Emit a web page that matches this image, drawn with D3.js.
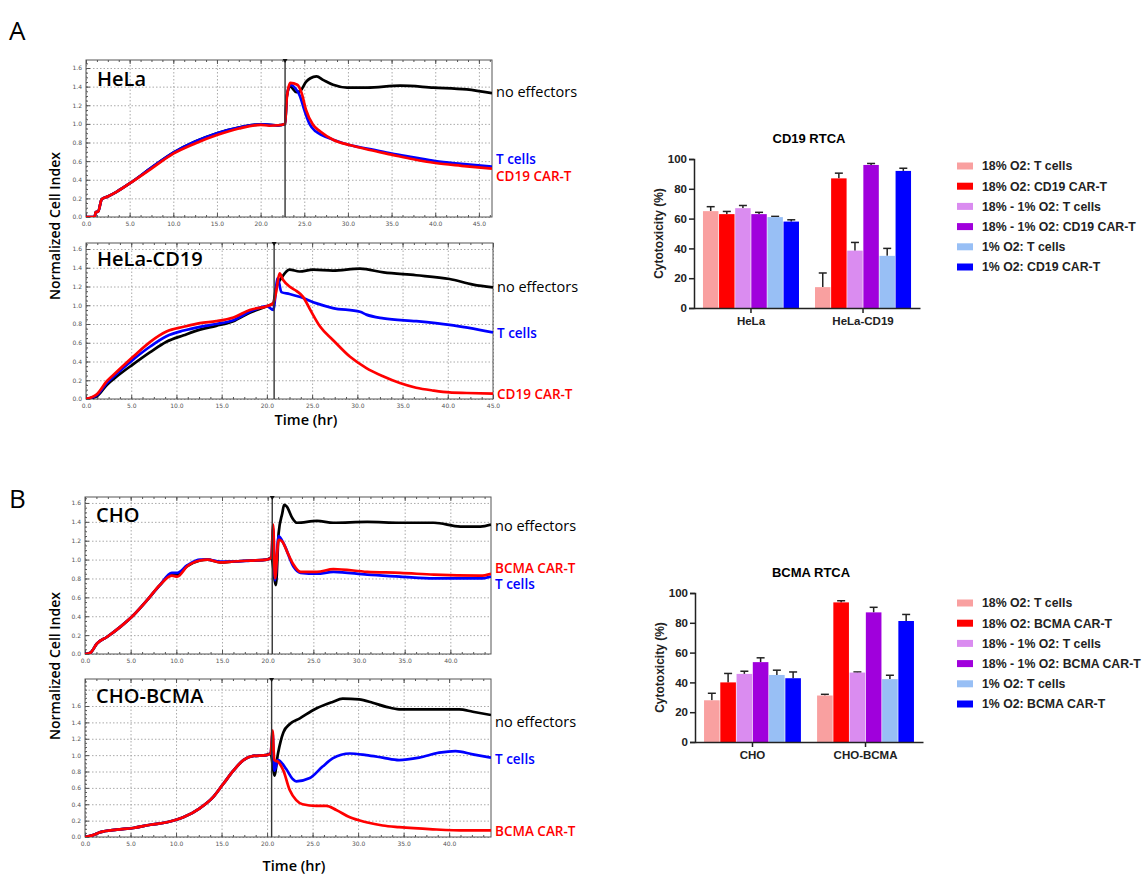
<!DOCTYPE html>
<html>
<head>
<meta charset="utf-8">
<script src="https://cdn.jsdelivr.net/npm/d3@7"></script>
<style>
  body { margin: 0; background: #fff; }
  svg { display: block; }
  .lbl { font-family: "Open Sans", sans-serif; }
  .bar text, .bar-t { font-family: "Liberation Sans", Arial, sans-serif; font-weight: bold; }
</style>
</head>
<body>
<svg id="fig" width="1146" height="875"></svg>
<script>
// ---- RTCA curves, [time (hr), normalized cell index] ----
const helaNoEff = [[0,0],[1.0,0],[1.1,0.05],[1.4,0.06],[1.8,0.19],[2.5,0.22],[3.5,0.27],[5,0.36],[7.5,0.53],[10,0.69],[12.5,0.81],[15,0.9],[17.5,0.96],[20,0.995],[21,0.99],[22,0.985],[22.8,1.0],[23.0,1.3],[23.4,1.40],[24.1,1.34],[24.6,1.36],[25.2,1.45],[25.7,1.49],[26.4,1.51],[27.2,1.47],[28.3,1.42],[29.9,1.39],[32.2,1.39],[36,1.41],[39.8,1.39],[43.6,1.37],[46.5,1.33]];
const helaT = [[0,0],[1.0,0],[1.1,0.05],[1.4,0.06],[1.8,0.19],[2.5,0.22],[3.5,0.27],[5,0.36],[7.5,0.53],[10,0.69],[12.5,0.81],[15,0.9],[17.5,0.96],[20,0.995],[21,0.99],[22,0.985],[22.8,1.0],[23.0,1.3],[23.4,1.42],[24,1.38],[24.5,1.3],[25,1.15],[25.6,1.0],[26.3,0.92],[27,0.88],[28.3,0.83],[30.3,0.77],[32.5,0.73],[35,0.68],[37.5,0.64],[40,0.6],[43,0.57],[46.5,0.54]];
const helaCar = [[0,0],[1.0,0],[1.1,0.05],[1.4,0.06],[1.8,0.19],[2.5,0.22],[3.5,0.27],[5,0.36],[7.5,0.52],[10,0.68],[12.5,0.79],[15,0.88],[17.5,0.95],[20,0.99],[21,0.98],[22,0.985],[22.8,1.0],[23.0,1.28],[23.4,1.44],[24.2,1.42],[24.7,1.33],[25.2,1.15],[26,0.99],[26.8,0.92],[28.3,0.83],[30.3,0.77],[32.5,0.72],[35,0.67],[37.5,0.62],[40,0.58],[43,0.55],[46.5,0.52]];

const cd19NoEff = [[0,0],[1.2,0.03],[2.3,0.15],[3.4,0.24],[5.2,0.37],[7.1,0.5],[8.9,0.61],[10.8,0.68],[12.6,0.74],[14.4,0.78],[16.3,0.83],[18.1,0.92],[20,0.99],[20.7,1.02],[21,1.18],[21.6,1.29],[22.5,1.38],[23.6,1.36],[25.1,1.38],[27.3,1.37],[30.3,1.39],[32.9,1.35],[36.5,1.32],[40.2,1.28],[42.8,1.22],[45,1.19]];
const cd19T = [[0,0],[1.2,0.04],[2.3,0.17],[3.4,0.27],[5.2,0.42],[7.1,0.56],[8.9,0.67],[10.8,0.73],[12.6,0.77],[14.4,0.8],[16.3,0.84],[18.1,0.93],[20,0.99],[20.7,0.95],[21.2,1.29],[21.6,1.14],[22.5,1.12],[23.6,1.09],[25.5,1.02],[27.3,0.97],[30.3,0.93],[31,0.9],[32.9,0.86],[36.5,0.83],[40.2,0.79],[45,0.71]];
const cd19Car = [[0,0],[1.2,0.05],[2.3,0.19],[3.4,0.29],[5.2,0.45],[7.1,0.61],[8.9,0.72],[10.8,0.77],[12.6,0.81],[14.4,0.83],[16.3,0.87],[18.1,0.95],[20,0.99],[20.7,1.02],[21,1.13],[21.4,1.34],[21.8,1.27],[22.5,1.2],[23.3,1.15],[24,1.09],[24.8,0.95],[25.9,0.77],[27.3,0.63],[29.2,0.45],[31,0.33],[32.9,0.24],[34.7,0.17],[36.5,0.12],[38.4,0.09],[40.2,0.07],[42.1,0.064],[45,0.057]];

const choNoEff = [[0,0],[0.6,0.014],[1.3,0.11],[2.4,0.18],[3.9,0.29],[5.3,0.41],[6.8,0.57],[8.2,0.73],[9.5,0.84],[10.1,0.84],[11.2,0.93],[12.6,0.99],[13.4,1.0],[14.8,0.97],[16.3,0.98],[18.1,0.99],[19.9,1.0],[20.4,1.02],[20.9,0.73],[21.2,1.28],[21.6,1.49],[21.8,1.58],[22.1,1.56],[22.7,1.44],[23.2,1.39],[25.4,1.41],[27.2,1.39],[30.9,1.40],[34.5,1.39],[38.2,1.39],[41.1,1.35],[43.3,1.35],[44.45,1.37]];
const choT = [[0,0],[0.6,0.014],[1.3,0.11],[2.4,0.18],[3.9,0.29],[5.3,0.41],[6.8,0.57],[8.2,0.73],[9.5,0.86],[10.1,0.86],[11.2,0.94],[12.6,1.0],[13.4,1.0],[14.8,0.98],[16.3,0.98],[18.1,0.99],[19.9,1.0],[20.4,1.02],[20.6,1.33],[20.8,0.78],[21.2,1.25],[21.8,1.16],[22.8,0.93],[23.6,0.86],[25.4,0.85],[27.2,0.87],[30.9,0.84],[34.5,0.82],[38.2,0.8],[43.3,0.8],[44.45,0.82]];
const choCar = [[0,0],[0.6,0.014],[1.3,0.11],[2.4,0.18],[3.9,0.29],[5.3,0.41],[6.8,0.57],[8.2,0.73],[9.5,0.83],[10.1,0.82],[11.2,0.93],[12.6,0.99],[13.4,1.0],[14.8,0.97],[16.3,0.98],[18.1,0.99],[19.9,1.0],[20.4,1.02],[20.6,1.37],[20.8,0.80],[21.2,1.21],[21.6,1.19],[22.1,1.09],[22.8,0.95],[23.6,0.87],[25.4,0.87],[27.2,0.9],[30.9,0.87],[34.5,0.86],[38.2,0.84],[43.3,0.83],[44.45,0.85]];

const bcmaNoEff = [[0,0],[0.8,0.02],[1.7,0.06],[3.5,0.09],[5.3,0.11],[7.2,0.15],[9,0.18],[10.8,0.24],[12.6,0.35],[14.1,0.49],[15.2,0.65],[16.3,0.81],[17.4,0.94],[18.5,0.99],[19.9,1.0],[20.4,1.02],[20.8,0.75],[21.2,1.02],[21.8,1.28],[22.5,1.38],[23.6,1.45],[25.4,1.57],[27.2,1.65],[28.3,1.69],[30.1,1.68],[31.6,1.64],[33.1,1.59],[34.5,1.56],[38.2,1.56],[41.1,1.56],[42.6,1.53],[44.6,1.49]];
const bcmaT = [[0,0],[0.8,0.02],[1.7,0.06],[3.5,0.09],[5.3,0.11],[7.2,0.15],[9,0.18],[10.8,0.24],[12.6,0.35],[14.1,0.49],[15.2,0.65],[16.3,0.81],[17.4,0.94],[18.5,0.99],[19.9,1.0],[20.4,1.02],[20.6,1.28],[20.8,0.81],[21.2,0.94],[22.1,0.83],[22.8,0.71],[23.2,0.68],[24.7,0.72],[26.1,0.86],[27.2,0.96],[29.1,1.02],[30.9,1.0],[32.7,0.97],[34.5,0.94],[36.7,0.97],[38.9,1.03],[40.7,1.05],[42.6,1.01],[44.6,0.97]];
const bcmaCar = [[0,0],[0.8,0.02],[1.7,0.06],[3.5,0.09],[5.3,0.11],[7.2,0.15],[9,0.18],[10.8,0.24],[12.6,0.35],[14.1,0.49],[15.2,0.65],[16.3,0.81],[17.4,0.94],[18.5,0.99],[19.9,1.0],[20.4,1.02],[20.6,1.3],[20.8,0.94],[21.2,0.92],[21.8,0.81],[22.5,0.57],[23.2,0.45],[23.9,0.40],[25.4,0.38],[26.5,0.38],[27.6,0.33],[29.1,0.24],[30.9,0.18],[32.7,0.14],[34.5,0.12],[38.2,0.094],[41.8,0.08],[44.6,0.08]];

// ---- cytotoxicity bars ----
const cd19Groups = ['HeLa', 'HeLa-CD19'];
const cd19Legend = ['18% O2: T cells', '18% O2: CD19 CAR-T', '18% - 1% O2: T cells', '18% - 1% O2: CD19 CAR-T', '1% O2: T cells', '1% O2: CD19 CAR-T'];
const cd19Values = [[65, 63, 67, 63, 61, 58], [14, 87, 38.5, 96, 35, 92]];
const cd19Errors = [[3, 1.8, 1.8, 1.2, 0.5, 1.2], [9.5, 3.5, 5.5, 1, 5, 1.8]];

const bcmaGroups = ['CHO', 'CHO-BCMA'];
const bcmaLegend = ['18% O2: T cells', '18% O2: BCMA CAR-T', '18% - 1% O2: T cells', '18% - 1% O2: BCMA CAR-T', '1% O2: T cells', '1% O2: BCMA CAR-T'];
const bcmaValues = [[28, 40, 45.7, 53.6, 45, 42.8], [31.2, 93.7, 46.6, 87, 42.2, 81.2]];
const bcmaErrors = [[4.7, 6, 1.8, 2.9, 3.2, 4.2], [0.8, 1.1, 0.4, 3.4, 2.6, 4.4]];

const barColors = ['#F9A0A0', '#FF0000', '#DA8CF0', '#A000DC', '#98BFF5', '#0000FF'];

const svg = d3.select('#fig');

function drawPanel(p) {
    const x = d3.scaleLinear([0, p.tmax], [p.left, p.right]);
    const y = d3.scaleLinear([0, p.vmax], [p.bottom, p.top]);
    const w = p.right - p.left, h = p.bottom - p.top;
    const g = svg.append('g');

    const majX = d3.range(0, p.tmax + 0.01, 5);
    const majY = d3.range(0, p.vmax + 0.001, 0.2);

    // dotted grid
    g.append('g').attr('transform', `translate(0,${p.bottom})`)
        .call(d3.axisBottom(x).tickValues(majX).tickSize(-h).tickFormat(''))
        .call(s => s.select('.domain').remove())
        .selectAll('line').attr('stroke', '#aaa').attr('stroke-dasharray', '1.5,2');
    g.append('g').attr('transform', `translate(${p.left},0)`)
        .call(d3.axisLeft(y).tickValues(majY).tickSize(-w).tickFormat(''))
        .call(s => s.select('.domain').remove())
        .selectAll('line').attr('stroke', '#aaa').attr('stroke-dasharray', '1.5,2');

    // inside ticks
    const minX = d3.range(0, p.tmax, 1.25);
    const minY = d3.range(0, p.vmax, 0.05);
    [['bottom', p.bottom], ['top', p.top]].forEach(([side, pos]) => {
        const ax = side === 'bottom' ? d3.axisBottom : d3.axisTop;
        g.append('g').attr('transform', `translate(0,${pos})`)
            .call(ax(x).tickValues(minX).tickSize(-2).tickFormat(''))
            .call(s => s.select('.domain').remove())
            .selectAll('line').attr('stroke', '#555');
        g.append('g').attr('transform', `translate(0,${pos})`)
            .call(ax(x).tickValues(majX).tickSize(-4).tickPadding(5)
                .tickFormat(side === 'bottom' ? d3.format('.1f') : ''))
            .call(s => s.select('.domain').remove())
            .call(s => s.selectAll('line').attr('stroke', '#555'))
            .selectAll('text').attr('font-size', 6).attr('fill', '#555')
            .attr('font-family', 'DejaVu Sans');
    });
    g.append('g').attr('transform', `translate(${p.left},0)`)
        .call(d3.axisLeft(y).tickValues(minY).tickSize(-2).tickFormat(''))
        .call(s => s.select('.domain').remove())
        .selectAll('line').attr('stroke', '#555');
    g.append('g').attr('transform', `translate(${p.left},0)`)
        .call(d3.axisLeft(y).tickValues(majY.filter(v => v <= 1.61)).tickSize(-4).tickPadding(4).tickFormat(d3.format('.1f')))
        .call(s => s.select('.domain').remove())
        .call(s => s.selectAll('line').attr('stroke', '#555'))
        .selectAll('text').attr('font-size', 6).attr('fill', '#555')
        .attr('font-family', 'DejaVu Sans');

    g.append('rect').attr('x', p.left).attr('y', p.top).attr('width', w).attr('height', h)
        .attr('fill', 'none').attr('stroke', '#555').attr('stroke-width', 1);

    // curves
    const clipId = 'clip' + p.id;
    svg.append('clipPath').attr('id', clipId).append('rect')
        .attr('x', p.left).attr('y', p.top - 2).attr('width', w).attr('height', h + 2);
    const line = d3.line().x(d => x(d[0])).y(d => y(d[1])).curve(d3.curveMonotoneX);
    p.series.forEach(s => {
        g.append('path').datum(s.data).attr('clip-path', `url(#${clipId})`)
            .attr('d', line).attr('fill', 'none').attr('stroke', s.color)
            .attr('stroke-width', 2.7).attr('stroke-linejoin', 'round');
    });

    // effector addition
    g.append('line').attr('x1', x(p.add)).attr('x2', x(p.add))
        .attr('y1', p.top).attr('y2', p.bottom).attr('stroke', '#333').attr('stroke-width', 1.4);
    g.append('path').attr('d', `M${x(p.add) - 2.5},${p.top - 1}h5l-2.5,4z`).attr('fill', '#111');

    g.append('text').attr('class', 'lbl').attr('x', p.left + 11).attr('y', p.titleY)
        .attr('font-size', 20).attr('font-weight', 600).text(p.title);

    p.series.forEach(s => {
        g.append('text').attr('class', 'lbl').attr('x', p.right + 4).attr('y', s.labelY)
            .attr('dy', '0.35em').attr('font-size', s.color === '#000' ? 14.5 : 13.5)
            .attr('font-weight', s.color === '#000' ? 400 : 600)
            .attr('fill', s.color).text(s.label);
    });
}

const blk = '#000', blu = '#0000FF', red = '#FF0000';

drawPanel({ id: 1, title: 'HeLa', titleY: 86, left: 86, right: 492, top: 60, bottom: 217, tmax: 46.5, vmax: 1.686, add: 22.8,
    series: [
        { data: helaNoEff, color: blk, label: 'no effectors', labelY: 92 },
        { data: helaT, color: blu, label: 'T cells', labelY: 159 },
        { data: helaCar, color: red, label: 'CD19 CAR-T', labelY: 176 }
    ] });
drawPanel({ id: 2, title: 'HeLa-CD19', titleY: 266, left: 86, right: 493, top: 243, bottom: 399, tmax: 45, vmax: 1.664, add: 20.8,
    series: [
        { data: cd19NoEff, color: blk, label: 'no effectors', labelY: 287 },
        { data: cd19T, color: blu, label: 'T cells', labelY: 333 },
        { data: cd19Car, color: red, label: 'CD19 CAR-T', labelY: 394 }
    ] });
drawPanel({ id: 3, title: 'CHO', titleY: 522, left: 85, right: 491, top: 497, bottom: 654, tmax: 44.45, vmax: 1.663, add: 20.5,
    series: [
        { data: choNoEff, color: blk, label: 'no effectors', labelY: 526 },
        { data: choT, color: blu, label: 'T cells', labelY: 584 },
        { data: choCar, color: red, label: 'BCMA CAR-T', labelY: 568 }
    ] });
drawPanel({ id: 4, title: 'CHO-BCMA', titleY: 703, left: 85, right: 491, top: 679, bottom: 837, tmax: 44.6, vmax: 1.93, add: 20.5,
    series: [
        { data: bcmaNoEff, color: blk, label: 'no effectors', labelY: 722 },
        { data: bcmaT, color: blu, label: 'T cells', labelY: 759 },
        { data: bcmaCar, color: red, label: 'BCMA CAR-T', labelY: 831 }
    ] });

// panel letters and shared axis titles
svg.append('text').attr('class', 'lbl').attr('x', 9).attr('y', 40).attr('font-size', 26).text('A');
svg.append('text').attr('class', 'lbl').attr('x', 9).attr('y', 508).attr('font-size', 26).text('B');
[[226, 425, 306], [666, 871, 294]].forEach(([cy, ty, tx]) => {
    svg.append('text').attr('class', 'lbl').attr('transform', `translate(60,${cy}) rotate(-90)`)
        .attr('text-anchor', 'middle').attr('font-size', 14).attr('font-weight', 600)
        .text('Normalized Cell Index');
    svg.append('text').attr('class', 'lbl').attr('x', tx).attr('y', ty)
        .attr('text-anchor', 'middle').attr('font-size', 14.5).attr('font-weight', 600).text('Time (hr)');
});

function drawBars(b) {
    const g = svg.append('g').attr('class', 'bar');
    const y = d3.scaleLinear([0, 100], [b.bottom, b.top]);
    const gx = d3.scaleBand(b.groups, [b.left, b.right]).paddingInner(0.143).paddingOuter(0.08);
    const sx = d3.scaleBand(d3.range(6), [0, gx.bandwidth()]).paddingInner(0.04);

    b.groups.forEach((grp, gi) => {
        const gg = g.append('g').attr('transform', `translate(${gx(grp)},0)`);
        const rows = b.values[gi].map((v, i) => ({ v, e: b.errors[gi][i], i }));
        gg.selectAll('line.err').data(rows).join('line').attr('class', 'err')
            .attr('x1', d => sx(d.i) + sx.bandwidth() / 2).attr('x2', d => sx(d.i) + sx.bandwidth() / 2)
            .attr('y1', d => y(d.v)).attr('y2', d => y(d.v + d.e)).attr('stroke', '#222').attr('stroke-width', 1.5);
        gg.selectAll('line.cap').data(rows).join('line').attr('class', 'cap')
            .attr('x1', d => sx(d.i) + sx.bandwidth() / 2 - 4).attr('x2', d => sx(d.i) + sx.bandwidth() / 2 + 4)
            .attr('y1', d => y(d.v + d.e)).attr('y2', d => y(d.v + d.e)).attr('stroke', '#222').attr('stroke-width', 1.5);
        gg.selectAll('rect').data(rows).join('rect')
            .attr('x', d => sx(d.i)).attr('width', sx.bandwidth())
            .attr('y', d => y(d.v)).attr('height', d => y(0) - y(d.v)).attr('fill', d => barColors[d.i]);
    });

    g.append('g').attr('transform', `translate(${b.left},0)`)
        .call(d3.axisLeft(y).tickValues([0, 20, 40, 60, 80, 100]).tickSize(5).tickPadding(2))
        .call(s => s.selectAll('text').attr('font-size', 11.5).attr('fill', '#222'));
    g.append('g').attr('transform', `translate(0,${b.bottom})`)
        .call(d3.axisBottom(gx).tickSize(5).tickSizeOuter(0).tickPadding(4))
        .call(s => s.selectAll('text').attr('font-size', 11.5).attr('fill', '#222'));
    g.selectAll('.domain, .tick line').attr('stroke', '#222').attr('stroke-width', 1.5);

    g.append('text').attr('x', (b.left + b.right) / 2 + 2).attr('y', b.top - 16)
        .attr('text-anchor', 'middle').attr('font-size', 13).text(b.title);
    g.append('text').attr('transform', `translate(${b.left - 31},${(b.top + b.bottom) / 2}) rotate(-90)`)
        .attr('text-anchor', 'middle').attr('font-size', 12).attr('fill', '#222').text('Cytotoxicity (%)');

    const lg = g.append('g').selectAll('g').data(b.legend).join('g')
        .attr('transform', (d, i) => `translate(957,${b.legendY + i * 20.2})`);
    lg.append('rect').attr('y', -3.5).attr('width', 16).attr('height', 7).attr('fill', (d, i) => barColors[i]);
    lg.append('text').attr('x', 25).attr('dy', '0.36em').attr('font-size', 12.3).attr('fill', '#222').text(d => d);
}

drawBars({ title: 'CD19 RTCA', groups: cd19Groups, values: cd19Values, errors: cd19Errors, legend: cd19Legend,
    left: 694, right: 920, top: 159, bottom: 308, legendY: 166 });
drawBars({ title: 'BCMA RTCA', groups: bcmaGroups, values: bcmaValues, errors: bcmaErrors, legend: bcmaLegend,
    left: 695, right: 923, top: 593, bottom: 742, legendY: 603 });
</script>
</body>
</html>
